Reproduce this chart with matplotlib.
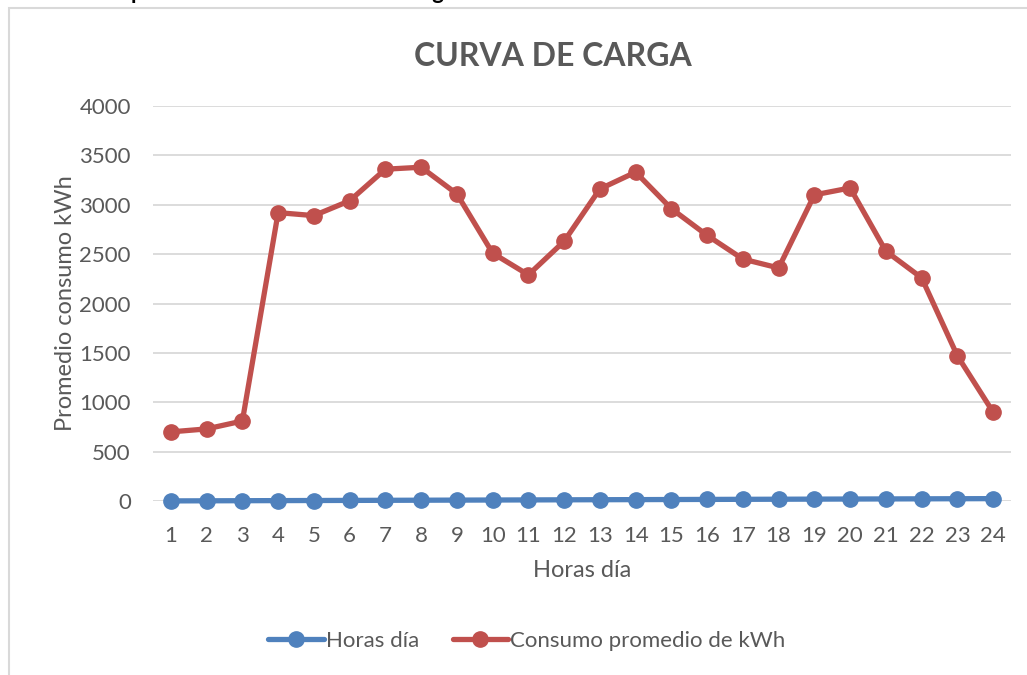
import matplotlib
matplotlib.use("Agg")
import matplotlib.pyplot as plt
from matplotlib.patches import Rectangle

plt.rcParams['font.family'] = ['Lato', 'DejaVu Sans']

horas = list(range(1, 25))
horas_dia = list(range(1, 25))
consumo = [700, 730, 810, 2920, 2890, 3040, 3360, 3380, 3110, 2510, 2290, 2630,
           3160, 3330, 2960, 2690, 2450, 2360, 3100, 3170, 2530, 2260, 1470, 900]
yticks = [0, 500, 1000, 1500, 2000, 2500, 3000, 3500, 4000]

W, H = 1027, 675
fig = plt.figure(figsize=(W / 100, H / 100), dpi=100)
fig.patch.set_facecolor('white')

# chart frame
fig.patches.append(Rectangle((8.5 / W, -0.05), 1.2, 1 - 7.5 / H + 0.05, transform=fig.transFigure,
                             fill=False, edgecolor='#D9D9D9', linewidth=1.5))

# caption cut off at top
fig.text(14 / W, 1 + 1 / H, "a.", fontsize=16, fontweight='bold', color='black', va='baseline')
fig.text(85 / W, 1 + 1 / H, "Comportamiento de la curva de carga", fontsize=16,
         fontweight='bold', color='black', va='baseline')

ax = fig.add_axes([153 / W, 1 - 501 / H, (1011 - 153) / W, (501 - 106) / H])
gray = '#595959'
ax.plot(horas, horas_dia, color='#4F81BD', linewidth=3.8, marker='o', markersize=11,
        label='Horas día', solid_capstyle='round', zorder=3)
ax.plot(horas, consumo, color='#C0504D', linewidth=3.8, marker='o', markersize=11,
        label='Consumo promedio de kWh', solid_capstyle='round', zorder=3)

ax.set_xlim(0.5, 24.5)
ax.set_ylim(0, 4000)
ax.set_yticks(yticks)
ax.set_xticks(horas)
ax.grid(axis='y', color='#D9D9D9', linewidth=1.3)
ax.set_axisbelow(True)
for s in ax.spines.values():
    s.set_visible(False)
ax.tick_params(length=0, labelsize=16, colors=gray)
ax.tick_params(axis='y', pad=16)
ax.tick_params(axis='x', pad=18)
for ln in ax.lines:
    ln.set_clip_on(False)

ax.set_xlabel('Horas día', fontsize=17, color=gray, labelpad=10)
ax.set_ylabel('Promedio consumo kWh', fontsize=17, color=gray, labelpad=2)
fig.text(553 / W, 1 - 57 / H, 'CURVA DE CARGA', fontsize=23, fontweight='bold',
         color=gray, ha='center', va='center')

fig.legend(loc='center', bbox_to_anchor=(527 / W, 1 - 641 / H), ncol=2, frameon=False,
           fontsize=16, labelcolor=gray, handlelength=2.5, handletextpad=0.1, columnspacing=1.5)

fig.savefig('out.png', dpi=100, facecolor='white')
